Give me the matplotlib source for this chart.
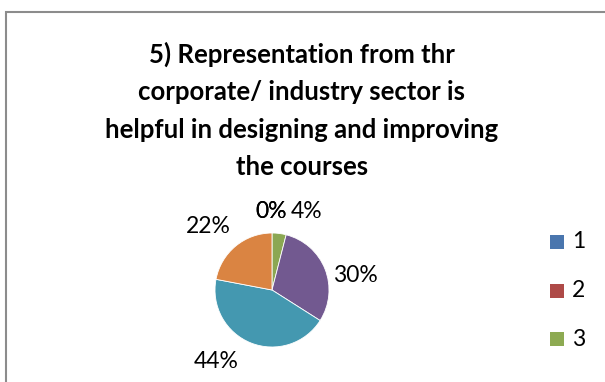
import matplotlib
matplotlib.use("Agg")
import matplotlib.pyplot as plt
from matplotlib.patches import Rectangle

# Survey responses, rating 1..6
categories = ["1", "2", "3", "4", "5", "6"]
shares = [0, 0, 4, 30, 44, 22]
colors = ["#4A7EBB", "#BE4B48", "#8BA753", "#725990", "#4498B0", "#DA8442"]
legend_colors = ["#4A76AE", "#AE4A47", "#8DAA52", "#725990", "#4498B0", "#DA8442"]
title_lines = ["5) Representation from thr",
               "corporate/ industry sector is",
               "helpful in designing and improving",
               "the courses"]

W, H = 605, 382
FONT = ["Lato", "DejaVu Sans"]
fig = plt.figure(figsize=(W / 100, H / 100), dpi=100)
fig.patch.set_facecolor("white")

# chart frame (runs off the right and bottom edges)
fig.patches.append(Rectangle((6 / W, -0.1), 1.0, 1 - 12 / H + 0.1,
                             transform=fig.transFigure, fill=False,
                             edgecolor="#8C8C8C", linewidth=1.5))

# title, one line per baseline
for i, line in enumerate(title_lines):
    base = 63 + i * 37.3
    fig.text(302 / W, 1 - base / H, line, ha="center", va="baseline",
             fontsize=18.5, fontweight="bold", family=FONT, color="#000000")

# pie
cx, cy, r = 272, 290, 57
ax = fig.add_axes([(cx - r) / W, (H - cy - r) / H, 2 * r / W, 2 * r / H])
wedges, _ = ax.pie(shares, colors=colors, startangle=90, counterclock=False,
                   radius=1, wedgeprops=dict(linewidth=0.6, edgecolor="white"))
ax.set_xlim(-1, 1)
ax.set_ylim(-1, 1)
ax.axis("off")

# data labels placed around the pie
label_pos = [(-0.02, 1.37), (-0.02, 1.37), (0.60, 1.37), (1.47, 0.26),
             (-0.98, -1.26), (-1.12, 1.12)]
for v, (lx, ly) in zip(shares, label_pos):
    ax.text(lx, ly, f"{v}%", ha="center", va="center", fontsize=16.5,
            family=FONT, clip_on=False)

# legend (only the top entries fit inside the chart area)
for i, (cat, col) in enumerate(zip(categories, legend_colors)):
    y = 242 + i * 48.5
    if y + 10 > H:
        break
    fig.patches.append(Rectangle((550 / W, 1 - (y + 7) / H), 14 / W, 14 / H,
                                 transform=fig.transFigure, facecolor=col,
                                 edgecolor="none"))
    fig.text(572 / W, 1 - y / H, cat, ha="left", va="center", fontsize=16.5,
             family=FONT)

fig.savefig("out.png", dpi=100)
